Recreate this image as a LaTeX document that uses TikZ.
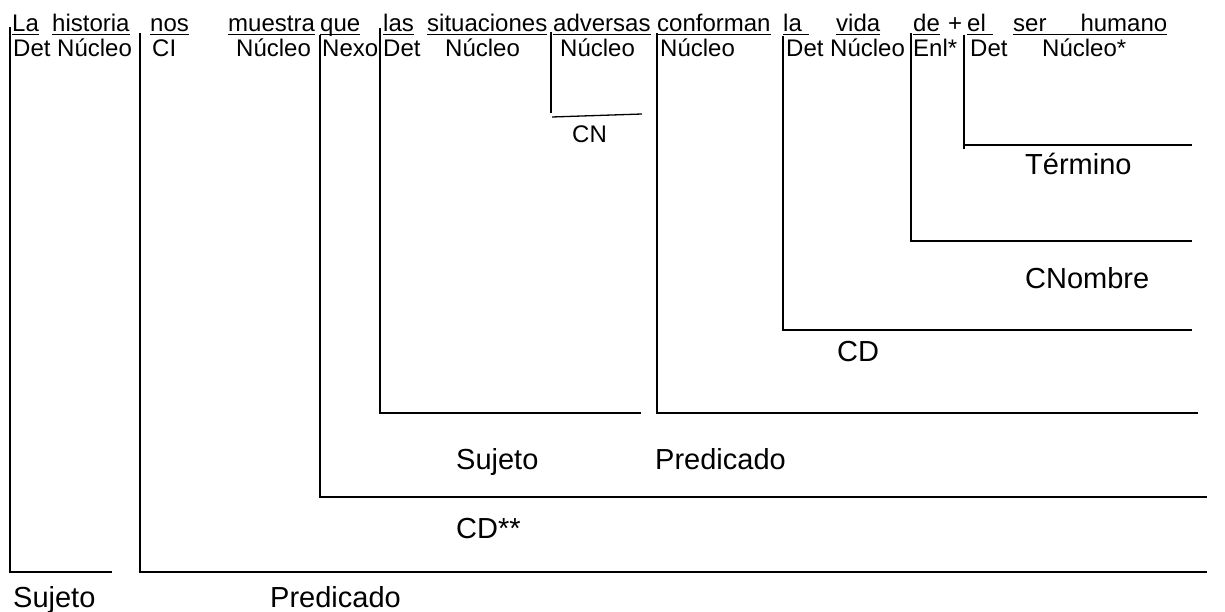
\documentclass[tikz,border=0pt]{standalone}
\usepackage{fontspec}
\setmainfont{Liberation Sans}
\newcommand{\ulw}[1]{\setbox0\hbox{#1}\rlap{\rule[-3.4pt]{\wd0}{1.7pt}}\box0}
\tikzset{
  wordtxt/.style={anchor=base west, inner sep=0pt, font=\fontsize{24}{28}\selectfont},
  bigtxt/.style={anchor=base west, inner sep=0pt, font=\fontsize{29}{34}\selectfont},
  brk/.style={line width=2pt, line join=miter},
  thinbrk/.style={line width=1.3pt},
}
\begin{document}
\begin{tikzpicture}[x=1pt,y=-1pt]
\path[fill=white] (0,0) rectangle (1225,612);
\useasboundingbox (0,0) rectangle (1225,612);
% words (row 1)
\node[wordtxt] (w1) at (12,32) {\ulw{La}};
\node[wordtxt] (w2) at (52,32) {\ulw{historia}};
\node[wordtxt] (w3) at (150,32) {\ulw{nos}};
\node[wordtxt] (w4) at (228,32) {\ulw{muestra}};
\node[wordtxt] (w5) at (320,32) {\ulw{que}};
\node[wordtxt] (w6) at (383,32) {\ulw{las}};
\node[wordtxt] (w7) at (427,32) {\ulw{situaciones}};
\node[wordtxt] (w8) at (553,32) {\ulw{adversas}};
\node[wordtxt] (w9) at (657,32) {\ulw{conforman}};
\node[wordtxt] (w10) at (783,32) {\ulw{la\ }};
\node[wordtxt] (w11) at (836,32) {\ulw{vida}};
\node[wordtxt] (w12) at (913,32) {\ulw{de}};
\node[wordtxt] (wplus) at (948,32) {+};
\node[wordtxt] (w13) at (967,32) {\ulw{el\ }};
\node[wordtxt] (w14) at (1013,32) {\ulw{ser\hspace{34pt}humano}};
% functions (row 2)
\node[wordtxt] (f1) at (13,57) {Det Núcleo};
\node[wordtxt] (f2) at (152,57) {CI};
\node[wordtxt] (f3) at (236,57) {Núcleo};
\node[wordtxt] (f4) at (322,57) {Nexo};
\node[wordtxt] (f5) at (383,57) {Det};
\node[wordtxt] (f6) at (445,57) {Núcleo};
\node[wordtxt] (f7) at (560,57) {Núcleo};
\node[wordtxt] (f8) at (660,57) {Núcleo};
\node[wordtxt] (f9) at (786,57) {Det Núcleo};
\node[wordtxt] (f10) at (913,57) {Enl*};
\node[wordtxt] (f11) at (970,57) {Det};
\node[wordtxt] (f12) at (1042,57) {Núcleo*};
% bracket corners
\coordinate (sujA) at (10,27);   \coordinate (sujB) at (10,572);   \coordinate (sujC) at (112,572);
\coordinate (preA) at (140,33);  \coordinate (preB) at (140,572);  \coordinate (preC) at (1207,572);
\coordinate (cdsA) at (320,35);  \coordinate (cdsB) at (320,497);  \coordinate (cdsC) at (1207,497);
\coordinate (sjiA) at (380,28);  \coordinate (sjiB) at (380,413);  \coordinate (sjiC) at (641,413);
\coordinate (cnA) at (551,32);   \coordinate (cnB) at (551,113);
\coordinate (cnC) at (552,117);  \coordinate (cnD) at (642,114);
\coordinate (pdiA) at (657,33);  \coordinate (pdiB) at (657,413);  \coordinate (pdiC) at (1198,413);
\coordinate (cdA) at (783,36);   \coordinate (cdB) at (783,330);   \coordinate (cdC) at (1192,330);
\coordinate (cnoA) at (911,33);  \coordinate (cnoB) at (911,241);  \coordinate (cnoC) at (1192,241);
\coordinate (terA) at (964,35);  \coordinate (terB) at (964,149);
\coordinate (terC) at (964,145); \coordinate (terD) at (1192,145);
% brackets
\draw[brk] (sujA) -- (sujB) -- (sujC);
\draw[brk] (preA) -- (preB) -- (preC);
\draw[brk] (cdsA) -- (cdsB) -- (cdsC);
\draw[brk] (sjiA) -- (sjiB) -- (sjiC);
\draw[thinbrk] (cnA) -- (cnB);
\draw[thinbrk] (cnC) -- (cnD);
\draw[brk] (pdiA) -- (pdiB) -- (pdiC);
\draw[brk] (cdA) -- (cdB) -- (cdC);
\draw[brk] (cnoA) -- (cnoB) -- (cnoC);
\draw[brk] (terA) -- (terB);
\draw[brk] (terC) -- (terD);
% labels
\node[wordtxt] (lcn) at (572,143) {CN};
\node[bigtxt] (lter) at (1025,175) {Término};
\node[bigtxt] (lcno) at (1025,288) {CNombre};
\node[bigtxt] (lcd) at (837,361) {CD};
\node[bigtxt] (lsji) at (456,469) {Sujeto};
\node[bigtxt] (lpdi) at (655,469) {Predicado};
\node[bigtxt] (lcds) at (456,538) {CD**};
\node[bigtxt] (lsuj) at (13,607) {Sujeto};
\node[bigtxt] (lpre) at (270,607) {Predicado};
\end{tikzpicture}
\end{document}
